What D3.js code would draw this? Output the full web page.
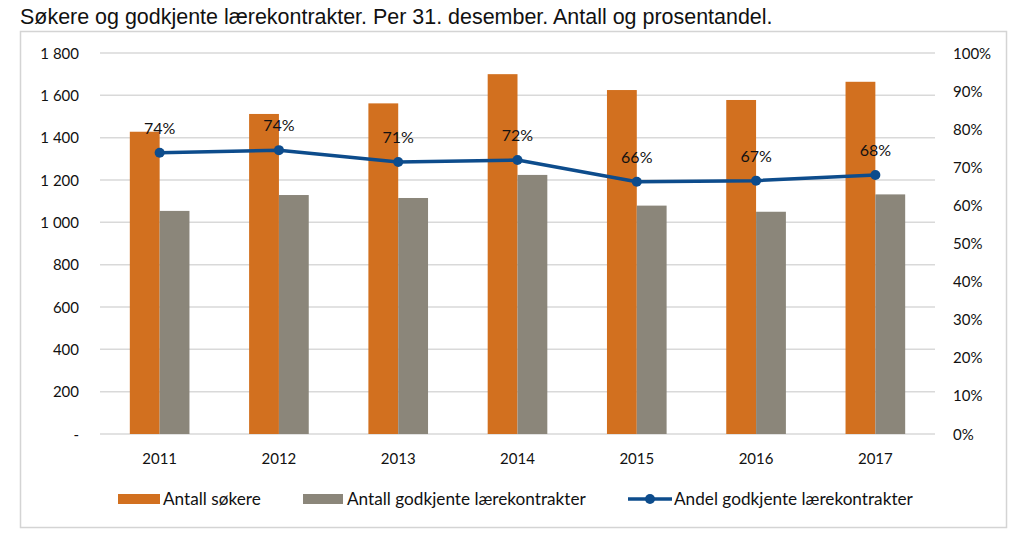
<!DOCTYPE html>
<html><head><meta charset="utf-8">
<script src="https://cdn.jsdelivr.net/npm/d3@7/dist/d3.min.js"></script>
<style>body{margin:0;background:#fff;} svg{display:block;}</style>
</head><body>
<svg id="c" width="1023" height="546"></svg>
<script>
const years = ["2011","2012","2013","2014","2015","2016","2017"];
const sokere = [1428, 1512, 1562, 1700, 1625, 1578, 1664];
const godkjente = [1054, 1129, 1115, 1224, 1079, 1050, 1132];
const andel = [0.738, 0.745, 0.714, 0.719, 0.662, 0.665, 0.680];
const andelLabels = ["74%","74%","71%","72%","66%","67%","68%"];
const leftTicks = [0,200,400,600,800,1000,1200,1400,1600,1800];
const rightTicks = [0,0.1,0.2,0.3,0.4,0.5,0.6,0.7,0.8,0.9,1.0];
const title = "Søkere og godkjente lærekontrakter. Per 31. desember. Antall og prosentandel.";
const seriesNames = ["Antall søkere","Antall godkjente lærekontrakter","Andel godkjente lærekontrakter"];

const C_OR = "#D2701F", C_GR = "#8B867A", C_BL = "#0D4C8C";
const FONT = "Lato, 'Open Sans', sans-serif";
const svg = d3.select("#c");

// title
const t = svg.append("text").attr("x",20).attr("y",24)
  .attr("font-family","'Liberation Sans', Arial, sans-serif").attr("font-size",19.5)
  .attr("fill","#111").text(title);
const tw = t.node().getComputedTextLength();
t.attr("font-size", 19.5*753/tw);

// frame
svg.append("rect").attr("x",20.5).attr("y",31.5).attr("width",986).attr("height",496)
  .attr("fill","none").attr("stroke","#d4d4d4").attr("stroke-width",1.5);

const x = d3.scaleBand().domain(years).range([100,935]).padding(0);
const y = d3.scaleLinear().domain([0,1800]).range([434,53]);
const y2 = d3.scaleLinear().domain([0,1]).range([434,53]);

// grid
svg.append("g").selectAll("line").data(leftTicks).join("line")
  .attr("x1",100).attr("x2",935).attr("y1",d=>y(d)).attr("y2",d=>y(d))
  .attr("stroke","#d9d9d9").attr("stroke-width",1.5);

// left axis labels
const fmt = d => d===0 ? "-" : d3.format(",")(d).replace(/,/g," ");
svg.append("g").selectAll("text").data(leftTicks).join("text")
  .attr("x",79).attr("y",d=>y(d)+5.5).attr("text-anchor","end")
  .attr("font-family",FONT).attr("font-size",15).attr("fill","#111")
  .text(fmt);
// right axis labels
svg.append("g").selectAll("text").data(rightTicks).join("text")
  .attr("x",953).attr("y",d=>y2(d)+5.5).attr("text-anchor","start")
  .attr("font-family",FONT).attr("font-size",15).attr("fill","#111")
  .text(d=>d3.format(".0%")(d));

const bw = x.bandwidth()*0.25;
const cx = d => x(d)+x.bandwidth()/2;
// bars
svg.append("g").selectAll("rect").data(years).join("rect")
  .attr("x",d=>cx(d)-bw).attr("width",bw).attr("y",(d,i)=>y(sokere[i]))
  .attr("height",(d,i)=>y(0)-y(sokere[i])).attr("fill",C_OR);
svg.append("g").selectAll("rect").data(years).join("rect")
  .attr("x",d=>cx(d)).attr("width",bw).attr("y",(d,i)=>y(godkjente[i]))
  .attr("height",(d,i)=>y(0)-y(godkjente[i])).attr("fill",C_GR);

// line
const line = d3.line().x((d,i)=>cx(years[i])).y(d=>y2(d));
svg.append("path").datum(andel).attr("d",line).attr("fill","none")
  .attr("stroke",C_BL).attr("stroke-width",3.5).attr("stroke-linejoin","round");
svg.append("g").selectAll("circle").data(andel).join("circle")
  .attr("cx",(d,i)=>cx(years[i])).attr("cy",d=>y2(d)).attr("r",5).attr("fill",C_BL);
svg.append("g").selectAll("text").data(andel).join("text")
  .attr("x",(d,i)=>cx(years[i])).attr("y",d=>y2(d)-19).attr("text-anchor","middle")
  .attr("font-family",FONT).attr("font-size",16).attr("fill","#111")
  .text((d,i)=>andelLabels[i]);

// x labels
svg.append("g").selectAll("text").data(years).join("text")
  .attr("x",d=>cx(d)).attr("y",464).attr("text-anchor","middle")
  .attr("font-family",FONT).attr("font-size",15).attr("fill","#111").text(d=>d);

// legend
const lg = svg.append("g");
lg.append("rect").attr("x",118).attr("y",494).attr("width",42).attr("height",10).attr("fill",C_OR);
lg.append("rect").attr("x",303).attr("y",494).attr("width",40).attr("height",10).attr("fill",C_GR);
lg.append("line").attr("x1",628).attr("x2",672).attr("y1",499).attr("y2",499).attr("stroke",C_BL).attr("stroke-width",3.5);
lg.append("circle").attr("cx",650).attr("cy",499).attr("r",5).attr("fill",C_BL);
const lx = [163, 347, 674];
const lt = lg.selectAll("text.l").data(seriesNames).join("text").attr("class","l")
  .attr("x",(d,i)=>lx[i]).attr("y",504.5).attr("font-family",FONT).attr("font-size",15)
  .attr("fill","#111").text(d=>d);
const w2 = lt.nodes()[2].getComputedTextLength();
lt.attr("font-size", 15*239/w2);
</script>
</body></html>
